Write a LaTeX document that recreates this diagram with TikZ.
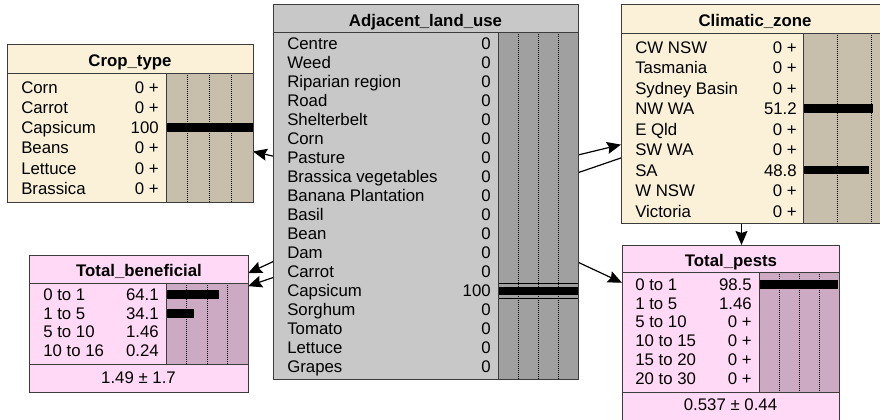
\documentclass[tikz,border=0pt]{standalone}
\usepackage{fontspec}
\setmainfont{Liberation Sans}
\usetikzlibrary{arrows.meta,calc}
\pgfdeclarelayer{background}
\pgfsetlayers{background,main}
\definecolor{cream}{RGB}{250,241,216}
\definecolor{tanbar}{RGB}{199,191,172}
\definecolor{lgray}{RGB}{200,200,200}
\definecolor{dgray}{RGB}{160,160,160}
\definecolor{pinkbg}{RGB}{255,217,246}
\definecolor{mauve}{RGB}{204,170,196}
\definecolor{bord}{RGB}{60,60,60}
\tikzset{
  box/.style={rectangle, inner sep=0pt, outer sep=0pt},
  frame/.style={draw=bord, line width=0.75pt},
  gridline/.style={line width=0.7pt, dash pattern=on 0.75pt off 0.75pt, draw=black},
  prob/.style={fill=black},
  ttl/.style={font=\fontsize{12.6}{15}\selectfont\bfseries, anchor=base, inner sep=0pt},
  state/.style={font=\fontsize{12.6}{15}\selectfont, anchor=base west, inner sep=0pt},
  val/.style={font=\fontsize{12.6}{15}\selectfont, anchor=base east, inner sep=0pt},
  foot/.style={font=\fontsize{12.6}{15}\selectfont, anchor=base, inner sep=0pt},
  arr/.style={-{Stealth[length=10.5pt,width=9pt,inset=1.5pt]}, line width=0.9pt, draw=black},
}
\begin{document}
\begin{tikzpicture}[x=0.75pt,y=-0.75pt]
\useasboundingbox (0,0) rectangle (880,419);

% ---------- Crop_type ----------
\node[box, minimum width=184.5pt, minimum height=118.5pt] (crop) at (130,123) {};
\fill[cream] (7,44) rectangle (253,202);
\fill[tanbar] (166,73) rectangle (253,202);
\foreach \gx in {187.75,209.5,231.25} \draw[gridline] (\gx,73) -- (\gx,202);
\fill[prob] (166,123) rectangle (253,132);
\draw[frame] (7,73) -- (253,73) (166,73) -- (166,202);
\draw[frame] (crop.north west) rectangle (crop.south east);
\node[ttl] (crop-t) at (130,66) {Crop\_type};
\foreach \s/\v [count=\i from 0] in {Corn/0 +,Carrot/0 +,Capsicum/100,Beans/0 +,Lettuce/0 +,Brassica/0 +}{
  \node[state] (crop-s\i) at (21,93.3+20.2*\i) {\s};
  \node[val] (crop-v\i) at (159,93.3+20.2*\i) {\v};
}

% ---------- Adjacent_land_use ----------
\node[box, minimum width=228.75pt, minimum height=281.25pt] (adj) at (425.5,191.5) {};
\fill[lgray] (273,4) rectangle (578,379);
\fill[dgray] (498,32) rectangle (578,379);
\foreach \gx in {518,538,558} \draw[gridline] (\gx,32) -- (\gx,379);
\fill[prob] (498,287) rectangle (578,295);
\draw[black, line width=0.9pt] (498,283.5) -- (578,283.5) (498,298.8) -- (578,298.8);
\draw[frame] (273,32) -- (578,32) (498,32) -- (498,379);
\draw[frame] (adj.north west) rectangle (adj.south east);
\node[ttl] (adj-t) at (425.5,26) {Adjacent\_land\_use};
\foreach \s/\v [count=\i from 0] in {Centre/0,Weed/0,Riparian region/0,Road/0,Shelterbelt/0,Corn/0,Pasture/0,Brassica vegetables/0,Banana Plantation/0,Basil/0,Bean/0,Dam/0,Carrot/0,Capsicum/100,Sorghum/0,Tomato/0,Lettuce/0,Grapes/0}{
  \node[state] (adj-s\i) at (287,49.3+19*\i) {\s};
  \node[val] (adj-v\i) at (491,49.3+19*\i) {\v};
}

% ---------- Climatic_zone ----------
\node[box, minimum width=195pt, minimum height=164.25pt] (clim) at (751,113.5) {};
\fill[cream] (621,4) rectangle (881,223);
\fill[tanbar] (803,33) rectangle (881,223);
\foreach \gx in {837,871} \draw[gridline] (\gx,33) -- (\gx,223);
\fill[prob] (803,104) rectangle (873,113);
\fill[prob] (803,166) rectangle (869,174);
\draw[frame] (621,33) -- (881,33) (803,33) -- (803,223);
\draw[frame] (clim.north west) rectangle (clim.south east);
\node[ttl] (clim-t) at (755,26.5) {Climatic\_zone};
\foreach \s/\v [count=\i from 0] in {CW NSW/0 +,Tasmania/0 +,Sydney Basin/0 +,NW WA/51.2,E Qld/0 +,SW WA/0 +,SA/48.8,W NSW/0 +,Victoria/0 +}{
  \node[state] (clim-s\i) at (635,53.3+20.5*\i) {\s};
  \node[val] (clim-v\i) at (797,53.3+20.5*\i) {\v};
}

% ---------- Total_beneficial ----------
\node[box, minimum width=164.25pt, minimum height=102.75pt] (tb) at (138.5,323.5) {};
\fill[pinkbg] (29,255) rectangle (248,392);
\fill[mauve] (166,283) rectangle (248,364);
\foreach \gx in {186.5,207,227.5} \draw[gridline] (\gx,283) -- (\gx,364);
\fill[prob] (166,290) rectangle (218.6,299);
\fill[prob] (166,309) rectangle (194,318);
\fill[prob] (166,328) rectangle (167.3,337);
\draw[frame] (29,283) -- (248,283) (166,283) -- (166,364) (29,364) -- (248,364);
\draw[frame] (tb.north west) rectangle (tb.south east);
\node[ttl] (tb-t) at (139,276) {Total\_beneficial};
\foreach \s/\v [count=\i from 0] in {0 to 1/64.1,1 to 5/34.1,5 to 10/1.46,10 to 16/0.24}{
  \node[state] (tb-s\i) at (43,300.3+18.7*\i) {\s};
  \node[val] (tb-v\i) at (159,300.3+18.7*\i) {\v};
}
\node[foot] (tb-f) at (138.5,383) {1.49 ± 1.7};

% ---------- Total_pests ----------
\node[box, minimum width=162.75pt, minimum height=132pt] (tp) at (730.5,333) {};
\fill[pinkbg] (622,245) rectangle (839,421);
\fill[mauve] (759,272) rectangle (839,392);
\foreach \gx in {779,799,819} \draw[gridline] (\gx,272) -- (\gx,392);
\fill[prob] (759,280) rectangle (838,289);
\fill[prob] (759,299) rectangle (760.3,308);
\draw[frame] (622,272) -- (839,272) (759,272) -- (759,392) (622,392) -- (839,392);
\draw[frame] (tp.north west) rectangle (tp.south east);
\node[ttl] (tp-t) at (731,266) {Total\_pests};
\foreach \s/\v [count=\i from 0] in {0 to 1/98.5,1 to 5/1.46,5 to 10/0 +,10 to 15/0 +,15 to 20/0 +,20 to 30/0 +}{
  \node[state] (tp-s\i) at (635,290.3+18.8*\i) {\s};
  \node[val] (tp-v\i) at (752,290.3+18.8*\i) {\v};
}
\node[foot] (tp-f) at (730.5,410) {0.537 ± 0.44};

% ---------- Links ----------
\begin{pgfonlayer}{background}
\fill[white] (0,0) rectangle (880,419);
\draw[arr] (adj) -- (crop);
\draw[arr] (adj) -- (clim);
\draw[arr] (adj) -- (tb);
\draw[arr] (adj) -- (tp);
\draw[arr] (clim) -- (tb);
\draw[arr] ($(clim.south -| tp.north)+(11,0)$) -- ($(tp.north)+(11,0)$);
\end{pgfonlayer}
\end{tikzpicture}
\end{document}
